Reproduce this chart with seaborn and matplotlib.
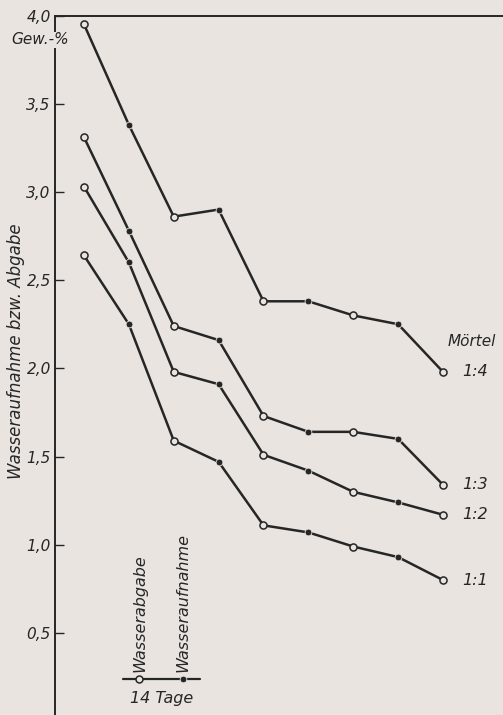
import matplotlib
matplotlib.use("Agg")
import matplotlib.pyplot as plt
import seaborn as sns
import numpy as np
import pandas as pd

mischungen = ["1:4", "1:3", "1:2", "1:1"]
werte_1_4 = [3.95, 3.38, 2.86, 2.90, 2.38, 2.38, 2.30, 2.25, 1.98]
werte_1_3 = [3.31, 2.78, 2.24, 2.16, 1.73, 1.64, 1.64, 1.60, 1.34]
werte_1_2 = [3.03, 2.60, 1.98, 1.91, 1.51, 1.42, 1.30, 1.24, 1.17]
werte_1_1 = [2.64, 2.25, 1.59, 1.47, 1.11, 1.07, 0.99, 0.93, 0.80]
schritte = list(range(9))
art = ["Wasserabgabe", "Wasseraufnahme"] * 4 + ["Wasserabgabe"]
y_ticks = [0.5, 1.0, 1.5, 2.0, 2.5, 3.0, 3.5, 4.0]
y_ticklabels = ["0,5", "1,0", "1,5", "2,0", "2,5", "3,0", "3,5", "4,0"]

bg = "#e9e4df"
ink = "#262626"

rows = []
for name, vals in zip(mischungen, [werte_1_4, werte_1_3, werte_1_2, werte_1_1]):
    for s, v, a in zip(schritte, vals, art):
        rows.append({"schritt": s, "wert": v, "mischung": name, "art": a})
df = pd.DataFrame(rows)

sns.set_style("white")
plt.rcParams["font.family"] = ["DejaVu Sans"]

fig = plt.figure(figsize=(5.03, 7.15), dpi=100, facecolor=bg)
ax = fig.add_axes([55 / 503, 0.0, 448 / 503, 699.5 / 715])
ax.set_facecolor(bg)

sns.lineplot(data=df, x="schritt", y="wert", units="mischung", estimator=None,
             color=ink, linewidth=1.8, ax=ax, legend=False)
sns.scatterplot(data=df[df.art == "Wasserabgabe"], x="schritt", y="wert",
                marker="o", s=26, facecolor=bg, edgecolor=ink, linewidth=1.1,
                ax=ax, legend=False, zorder=3)
sns.scatterplot(data=df[df.art == "Wasseraufnahme"], x="schritt", y="wert",
                marker="o", s=24, color=ink, edgecolor=bg, linewidth=0.6,
                ax=ax, legend=False, zorder=3)

ax.set_xlim(-0.646, 9.337)
ax.set_ylim(0.035, 4.0)
ax.set_xticks([])
ax.set_xlabel("")
ax.set_yticks(y_ticks)
ax.set_yticklabels(y_ticklabels, fontsize=11, style="italic", color=ink)
ax.tick_params(axis="y", direction="in", length=6.5, width=1.0, color=ink, pad=3, left=True)
ax.set_ylabel("Wasseraufnahme bzw. Abgabe", fontsize=12, style="italic", color=ink)
ax.yaxis.set_label_coords(-0.066, 0.52)

for side in ["right", "bottom"]:
    ax.spines[side].set_visible(False)
for side in ["left", "top"]:
    ax.spines[side].set_color(ink)
    ax.spines[side].set_linewidth(1.4)

# Beschriftung der Kurven
last = {m: v[-1] for m, v in zip(mischungen, [werte_1_4, werte_1_3, werte_1_2, werte_1_1])}
for m in mischungen:
    ax.annotate(m, xy=(8, last[m]), xytext=(14, 0), textcoords="offset points",
                va="center", ha="left", fontsize=11.5, style="italic", color=ink)
ax.annotate("Mörtel", xy=(8, last["1:4"]), xytext=(3.5, 22), textcoords="offset points",
            va="center", ha="left", fontsize=11, style="italic", color=ink)

ax.text(-0.033, 0.965, "Gew.-%", transform=ax.transAxes, ha="center", va="center",
        fontsize=11, style="italic", color=ink, clip_on=False,
        bbox=dict(facecolor=bg, edgecolor="none", pad=0.5), zorder=5)

# Legende: 14 Tage
ly = 0.0515
ax.plot([0.152, 0.324], [ly, ly], transform=ax.transAxes, color=ink, lw=1.6, clip_on=False)
ax.plot([0.187], [ly], transform=ax.transAxes, marker="o", ms=5, mfc=bg, mec=ink, mew=1.1)
ax.plot([0.285], [ly], transform=ax.transAxes, marker="o", ms=4.8, mfc=ink, mec=bg, mew=0.6)
ax.text(0.190, 0.062, "Wasserabgabe", transform=ax.transAxes, rotation=90,
        ha="center", va="bottom", fontsize=11.5, style="italic", color=ink)
ax.text(0.285, 0.062, "Wasseraufnahme", transform=ax.transAxes, rotation=90,
        ha="center", va="bottom", fontsize=11.5, style="italic", color=ink)
ax.text(0.239, 0.024, "14 Tage", transform=ax.transAxes, ha="center", va="center",
        fontsize=11.5, style="italic", color=ink)

fig.savefig("out.png", dpi=100, facecolor=bg)
